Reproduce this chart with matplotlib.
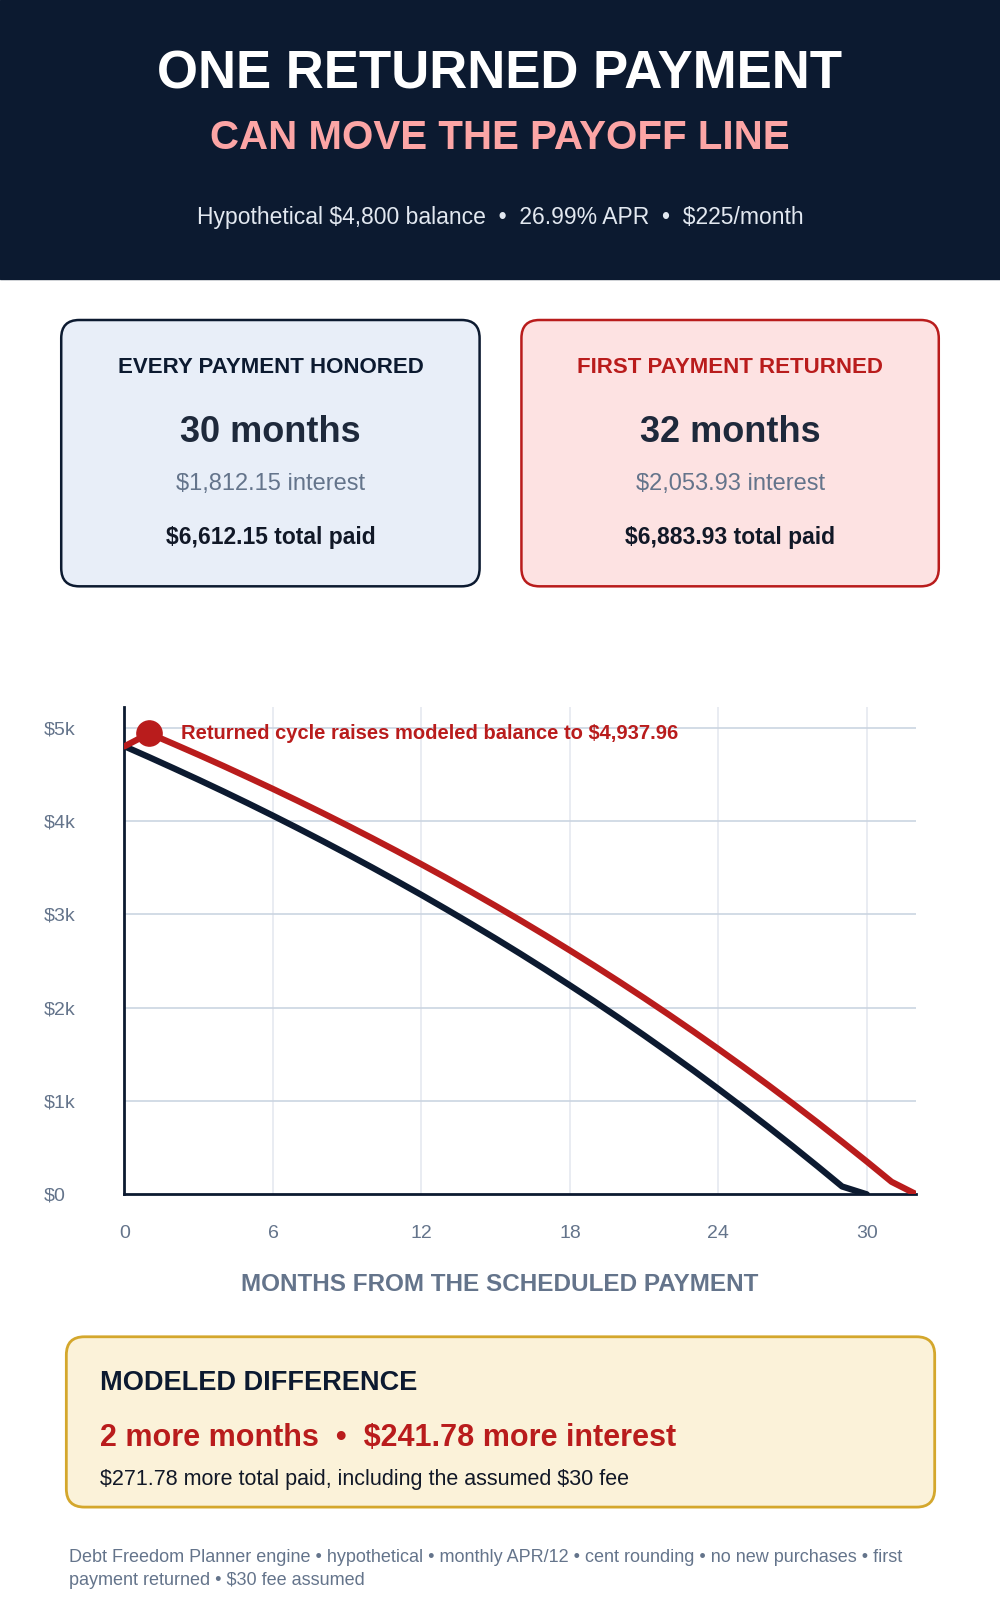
import matplotlib.pyplot as plt
from matplotlib.patches import FancyBboxPatch, Rectangle

plt.rcParams['font.family'] = ['Liberation Sans', 'DejaVu Sans']
plt.rcParams['text.parse_math'] = False

months_honored = list(range(0, 31))
balance_honored = [4800, 4683, 4563, 4441, 4316, 4188, 4057, 3923, 3786, 3646, 3503,
                   3357, 3208, 3055, 2899, 2740, 2577, 2410, 2239, 2065, 1886, 1703,
                   1516, 1325, 1129, 929, 725, 516, 302, 84, 0]
months_returned = list(range(0, 33))
balance_returned = [4800, 4938, 4824, 4708, 4589, 4467, 4343, 4216, 4086, 3953, 3817,
                    3678, 3536, 3391, 3242, 3090, 2935, 2776, 2613, 2447, 2277, 2103,
                    1925, 1743, 1557, 1367, 1173, 974, 771, 563, 351, 134, 0]
yticks = [0, 1000, 2000, 3000, 4000, 5000]
ylabels = ['$0', '$1k', '$2k', '$3k', '$4k', '$5k']
xticks = [0, 6, 12, 18, 24, 30]

NAVY = '#0c1a30'
RED = '#b91c1c'
GREY = '#64748b'

W, H = 980.0, 1550.0
def fx(x): return x / W
def fy(y): return 1 - y / H

fig = plt.figure(figsize=(10, 16), dpi=100)
fig.patches.append(Rectangle((0, fy(270)), 1, 270 / H, transform=fig.transFigure,
                             color=NAVY, zorder=0))
fig.text(0.5, fy(72), 'ONE RETURNED PAYMENT', color='white', fontsize=38,
         fontweight='bold', ha='center', va='center')
fig.text(0.5, fy(134), 'CAN MOVE THE PAYOFF LINE', color='#fca5a5', fontsize=29,
         fontweight='bold', ha='center', va='center')
fig.text(0.5, fy(211), 'Hypothetical $4,800 balance  •  26.99% APR  •  $225/month',
         color='#e2e8f0', fontsize=16.5, ha='center', va='center')

def box(x0, y0, x1, y1, fc, ec, lw=1.8):
    fig.patches.append(FancyBboxPatch((fx(x0), fy(y1)), fx(x1) - fx(x0), (y1 - y0) / H,
                       boxstyle='round,pad=0,rounding_size=0.018', transform=fig.transFigure,
                       fc=fc, ec=ec, lw=lw, mutation_aspect=0.63))

cards = [(60, 470, '#e8eef8', NAVY, 'EVERY PAYMENT HONORED', NAVY, '30 months',
          '$1,812.15 interest', '$6,612.15 total paid'),
         (511, 920, '#fde2e2', RED, 'FIRST PAYMENT RETURNED', RED, '32 months',
          '$2,053.93 interest', '$6,883.93 total paid')]
for x0, x1, fc, ec, title, tc, big, interest, total in cards:
    box(x0, 310, x1, 568, fc, ec)
    cx = fx((x0 + x1) / 2)
    fig.text(cx, fy(356), title, color=tc, fontsize=16, fontweight='bold', ha='center', va='center')
    fig.text(cx, fy(419), big, color='#1e293b', fontsize=26, fontweight='bold', ha='center', va='center')
    fig.text(cx, fy(469), interest, color=GREY, fontsize=17, ha='center', va='center')
    fig.text(cx, fy(521), total, color='#111827', fontsize=16.5, fontweight='bold', ha='center', va='center')

ax = fig.add_axes([fx(122), fy(1157), fx(898) - fx(122), (1157 - 685) / H])
ax.set_xlim(0, 32)
ax.set_ylim(0, 5220)
for m in xticks[1:]:
    ax.axvline(m, color='#e5e9f0', lw=1.2, zorder=0)
for v in yticks[1:]:
    ax.axhline(v, color='#cbd5e1', lw=1.2, zorder=0)
ax.plot(months_honored, balance_honored, color=NAVY, lw=4.5, solid_capstyle='round', zorder=3)
ax.plot(months_returned, balance_returned, color=RED, lw=4.5, solid_capstyle='round', zorder=4)
ax.scatter([months_returned[1]], [balance_returned[1]], s=330, color=RED, zorder=5, clip_on=False)
ax.text(2.3, balance_returned[1], 'Returned cycle raises modeled balance to $4,937.96',
        color=RED, fontsize=14.5, fontweight='bold', va='center')
ax.set_xticks(xticks)
ax.set_yticks(yticks)
ax.set_yticklabels(ylabels)
ax.tick_params(length=0, colors=GREY, labelsize=14)
ax.tick_params(axis='x', pad=22)
ax.tick_params(axis='y', pad=58)
for lab in ax.get_yticklabels():
    lab.set_horizontalalignment('left')
for s in ['top', 'right']:
    ax.spines[s].set_visible(False)
for s in ['left', 'bottom']:
    ax.spines[s].set_color(NAVY)
    ax.spines[s].set_linewidth(2)
fig.text(fx(490), fy(1244), 'MONTHS FROM THE SCHEDULED PAYMENT', color=GREY, fontsize=17.5,
         fontweight='bold', ha='center', va='center')

box(65, 1295, 916, 1460, '#fbf2d9', '#d4a72c', lw=2)
fig.text(fx(98), fy(1340), 'MODELED DIFFERENCE', color=NAVY, fontsize=19.5, fontweight='bold', va='center')
fig.text(fx(98), fy(1393), '2 more months  •  $241.78 more interest', color=RED, fontsize=22,
         fontweight='bold', va='center')
fig.text(fx(98), fy(1433), '$271.78 more total paid, including the assumed $30 fee', color='#111827',
         fontsize=15.5, va='center')

fig.text(fx(68), fy(1509), 'Debt Freedom Planner engine • hypothetical • monthly APR/12 • cent rounding • no new purchases • first',
         color=GREY, fontsize=13, va='center')
fig.text(fx(68), fy(1531), 'payment returned • $30 fee assumed', color=GREY, fontsize=13, va='center')

fig.savefig('out.png', dpi=100, facecolor='white')
